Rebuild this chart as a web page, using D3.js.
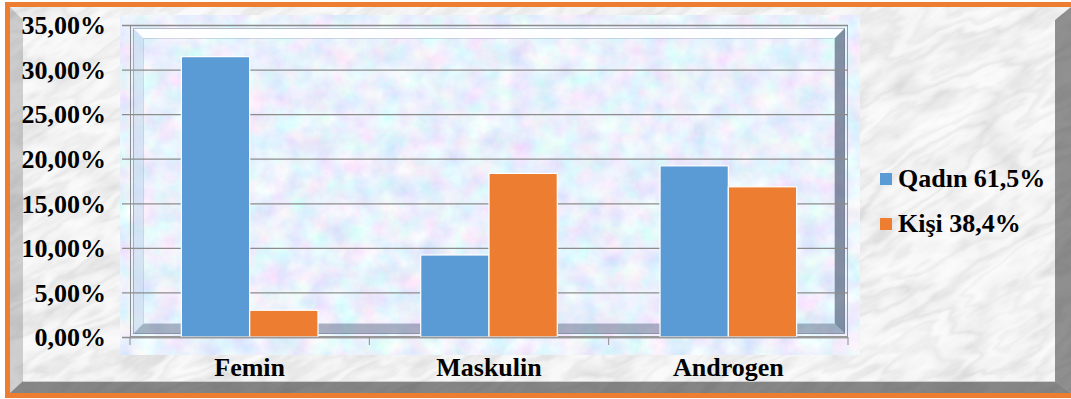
<!DOCTYPE html>
<html>
<head>
<meta charset="utf-8">
<script src="https://cdn.jsdelivr.net/npm/d3@7"></script>
<style>
  html, body { margin: 0; padding: 0; background: #ffffff; }
  svg { display: block; }
  text { font-family: "Liberation Serif", "Times New Roman", serif; font-weight: bold; fill: #000; }
</style>
</head>
<body>
<svg id="chart" width="1071" height="399"></svg>
<script>
// ---- data ----
const categories = ["Femin", "Maskulin", "Androgen"];
const seriesNames = ["Qadın 61,5%", "Kişi 38,4%"];
const qadinValues = [31.45, 9.2, 19.2];   // percent
const kisiValues  = [3.0, 18.35, 16.85];  // percent
const yTicks = [0, 5, 10, 15, 20, 25, 30, 35];
const seriesColors = ["#5b9bd5", "#ed7d31"];

const svg = d3.select("#chart");
const W = 1071, H = 399;

// ---- textures ----
const defs = svg.append("defs");

// marble stone for the outer card: cloudy grey plus noise contours as veins
const marble = defs.append("filter").attr("id", "marble")
  .attr("filterUnits", "userSpaceOnUse").attr("x", -400).attr("y", -400).attr("width", 2000).attr("height", 1400);
marble.append("feTurbulence").attr("type", "fractalNoise")
  .attr("baseFrequency", "0.006 0.02").attr("numOctaves", 5).attr("seed", 4).attr("result", "n1");
marble.append("feColorMatrix").attr("in", "n1").attr("type", "matrix")
  .attr("values", "1 0 0 0 0  1 0 0 0 0  1 0 0 0 0  0 0 0 0 1").attr("result", "g1");
const veinTable = "0.97 0.96 0.95 0.94 0.97 0.88 0.96 0.91 0.82 0.94 0.97 0.86 0.93 0.98 0.89 0.83 0.95 0.97 0.96 0.95";
const mct = marble.append("feComponentTransfer").attr("in", "g1").attr("result", "veins");
["feFuncR", "feFuncG", "feFuncB"].forEach(f =>
  mct.append(f).attr("type", "table").attr("tableValues", veinTable));
marble.append("feTurbulence").attr("type", "fractalNoise")
  .attr("baseFrequency", "0.02 0.035").attr("numOctaves", 3).attr("seed", 9).attr("result", "n2");
marble.append("feColorMatrix").attr("in", "n2").attr("type", "matrix")
  .attr("values", "1 0 0 0 0  1 0 0 0 0  1 0 0 0 0  0 0 0 0 1").attr("result", "g2");
const cct = marble.append("feComponentTransfer").attr("in", "g2").attr("result", "cloud");
["feFuncR", "feFuncG", "feFuncB"].forEach(f =>
  cct.append(f).attr("type", "table").attr("tableValues", "1 1 0.99 0.95 0.86 0.8"));
marble.append("feBlend").attr("in", "veins").attr("in2", "cloud").attr("mode", "multiply");
marble.append("feGaussianBlur").attr("stdDeviation", 0.7);

// pastel speckle for the plot panel
const pastel = defs.append("filter").attr("id", "pastel")
  .attr("filterUnits", "userSpaceOnUse").attr("x", 120).attr("y", 15).attr("width", 740).attr("height", 340);
pastel.append("feTurbulence").attr("type", "fractalNoise")
  .attr("baseFrequency", "0.045").attr("numOctaves", 4).attr("seed", 11);
pastel.append("feColorMatrix").attr("type", "matrix")
  .attr("values", "1 0 0 0 0  0 1 0 0 0  0 0 1 0 0  0 0 0 0 1");
const pct = pastel.append("feComponentTransfer");
pct.append("feFuncR").attr("type", "linear").attr("slope", 0.5).attr("intercept", 0.57);
pct.append("feFuncG").attr("type", "linear").attr("slope", 0.4).attr("intercept", 0.68);
pct.append("feFuncB").attr("type", "linear").attr("slope", 0.15).attr("intercept", 0.9);

defs.append("clipPath").attr("id", "cardClip")
  .append("rect").attr("x", 10).attr("y", 7).attr("width", W - 10).attr("height", 386);

// ---- outer card ----
const card = svg.append("g").attr("clip-path", "url(#cardClip)");
card.append("rect").attr("x", 0).attr("y", 0).attr("width", W).attr("height", H).attr("fill", "#eeeeee");
card.append("g").attr("transform", "rotate(-28 535 200)")
  .append("rect").attr("x", -300).attr("y", -300).attr("width", 1700).attr("height", 1000)
  .attr("filter", "url(#marble)");

// card bevel: left, bottom and right edges
card.append("path").attr("d", `M10,7 L23,20 L23,381 L10,393 Z`).attr("fill", "#6e6e6e").attr("opacity", 0.3);
card.append("path").attr("d", `M10,393 L23,381 L1055,381 L1071,393 Z`).attr("fill", "#3a3a3a").attr("opacity", 0.6);
card.append("path").attr("d", `M1055,20 L1071,7 L1071,393 L1055,381 Z`).attr("fill", "#3a3a3a").attr("opacity", 0.55);
card.append("line").attr("x1", 23).attr("x2", 1055).attr("y1", 381.5).attr("y2", 381.5)
  .attr("stroke", "#ffffff").attr("stroke-opacity", 0.6);

// orange border
svg.append("rect").attr("x", 7.5).attr("y", 4.5).attr("width", W + 20).attr("height", 391)
  .attr("fill", "none").attr("stroke", "#ed7d31").attr("stroke-width", 5);

// ---- plot geometry ----
const plot = { left: 130, right: 848, top: 25, bottom: 337 };

const x0 = d3.scaleBand().domain(categories).range([plot.left, plot.right]).paddingInner(0).paddingOuter(0);
const x1 = d3.scaleBand().domain(seriesNames).range([0, x0.bandwidth()]).paddingInner(0).paddingOuter(0.752);
const y = d3.scaleLinear().domain([0, 35]).range([plot.bottom, plot.top]);

// plot panel with bevelled frame
const panel = svg.append("g");
panel.append("rect").attr("x", plot.left).attr("y", plot.top)
  .attr("width", plot.right - plot.left).attr("height", plot.bottom - plot.top)
  .attr("fill", "#dce8f8");
panel.append("rect").attr("x", plot.left).attr("y", plot.top)
  .attr("width", plot.right - plot.left).attr("height", plot.bottom - plot.top)
  .attr("filter", "url(#pastel)");
const b0 = 3, b1 = 13;
const L = plot.left, R = plot.right, T = plot.top, B = plot.bottom;
panel.append("path")
  .attr("d", `M${L + b0},${T + b0} L${R - b0},${T + b0} L${R - b1},${T + b1} L${L + b1},${T + b1} Z`)
  .attr("fill", "#ffffff").attr("opacity", 0.9);
panel.append("path")
  .attr("d", `M${L + b0},${T + b0} L${L + b1},${T + b1} L${L + b1},${B - b1} L${L + b0},${B - b0} Z`)
  .attr("fill", "#c6d8ee").attr("opacity", 0.6);
panel.append("path")
  .attr("d", `M${R - b0},${T + b0} L${R - b0},${B - b0} L${R - b1},${B - b1} L${R - b1},${T + b1} Z`)
  .attr("fill", "#3f4c68").attr("opacity", 0.6);
panel.append("path")
  .attr("d", `M${L + b0},${B - b0} L${R - b0},${B - b0} L${R - b1},${B - b1} L${L + b1},${B - b1} Z`)
  .attr("fill", "#5f6c88").attr("opacity", 0.5);
panel.append("rect").attr("x", L + b1 + 0.5).attr("y", T + b1 + 0.5)
  .attr("width", R - L - 2 * b1 - 1).attr("height", B - T - 2 * b1 - 1)
  .attr("fill", "none").attr("stroke", "#8d9bb8").attr("stroke-opacity", 0.35);
panel.append("rect").attr("x", L + b0 + 0.5).attr("y", T + b0 + 0.5)
  .attr("width", R - L - 2 * b0 - 1).attr("height", B - T - 2 * b0 - 1)
  .attr("fill", "none").attr("stroke", "#6b7a95").attr("stroke-opacity", 0.5);
panel.append("rect").attr("x", L + 0.5).attr("y", T + 0.5)
  .attr("width", R - L - 1).attr("height", B - T - 1)
  .attr("fill", "none").attr("stroke", "#9a9a9a");

// ---- y axis with gridlines ----
const fmt = v => d3.format(".2f")(v).replace(".", ",") + "%";
const yAxis = svg.append("g").attr("transform", `translate(${plot.left},0)`)
  .call(d3.axisLeft(y).tickValues(yTicks).tickFormat(fmt)
    .tickSizeInner(-(plot.right - plot.left)).tickSizeOuter(0).tickPadding(0));
yAxis.select(".domain").attr("stroke", "#8c8c8c");
yAxis.selectAll(".tick line").attr("x1", -8).attr("stroke", "#8c8c8c").attr("stroke-width", 1.3);
yAxis.selectAll(".tick text").attr("x", -24).attr("dy", "0.34em")
  .style("font-size", "26px").style("font-family", '"Liberation Serif", serif').style("font-weight", "bold")
  .attr("fill", "#000");

// ---- bars ----
const rows = categories.map((c, i) => ({ cat: c, vals: [qadinValues[i], kisiValues[i]] }));
svg.append("g").selectAll("g").data(rows).join("g")
  .attr("transform", d => `translate(${x0(d.cat)},0)`)
  .selectAll("rect").data(d => d.vals.map((v, j) => ({ s: seriesNames[j], v, j })))
  .join("rect")
  .attr("x", d => x1(d.s)).attr("width", x1.bandwidth())
  .attr("y", d => y(d.v)).attr("height", d => y(0) - y(d.v))
  .attr("fill", d => seriesColors[d.j])
  .attr("stroke", "#ffffff").attr("stroke-width", 1.2);

// ---- x axis ----
const xAxis = svg.append("g").attr("transform", `translate(0,${plot.bottom})`);
xAxis.append("line").attr("x1", plot.left).attr("x2", plot.right).attr("y1", 0.5).attr("y2", 0.5)
  .attr("stroke", "#9a9a9a").attr("stroke-width", 1.5);
const bounds = categories.map(c => x0(c)).concat([plot.right]);
xAxis.selectAll("line.tk").data(bounds).join("line").attr("class", "tk")
  .attr("x1", d => d).attr("x2", d => d).attr("y1", 0).attr("y2", 8)
  .attr("stroke", "#8c8c8c");
xAxis.selectAll("text").data(categories).join("text")
  .attr("x", d => x0(d) + x0.bandwidth() / 2).attr("y", 39)
  .attr("text-anchor", "middle").style("font-size", "26px")
  .text(d => d);

// ---- legend ----
const legend = svg.append("g").attr("transform", "translate(880,173)");
const items = legend.selectAll("g").data(seriesNames).join("g")
  .attr("transform", (d, i) => `translate(0,${i * 45})`);
items.append("rect").attr("width", 12).attr("height", 12).attr("fill", (d, i) => seriesColors[i]);
items.append("text").attr("x", 18).attr("y", 14).style("font-size", "26px").text(d => d);
</script>
</body>
</html>
